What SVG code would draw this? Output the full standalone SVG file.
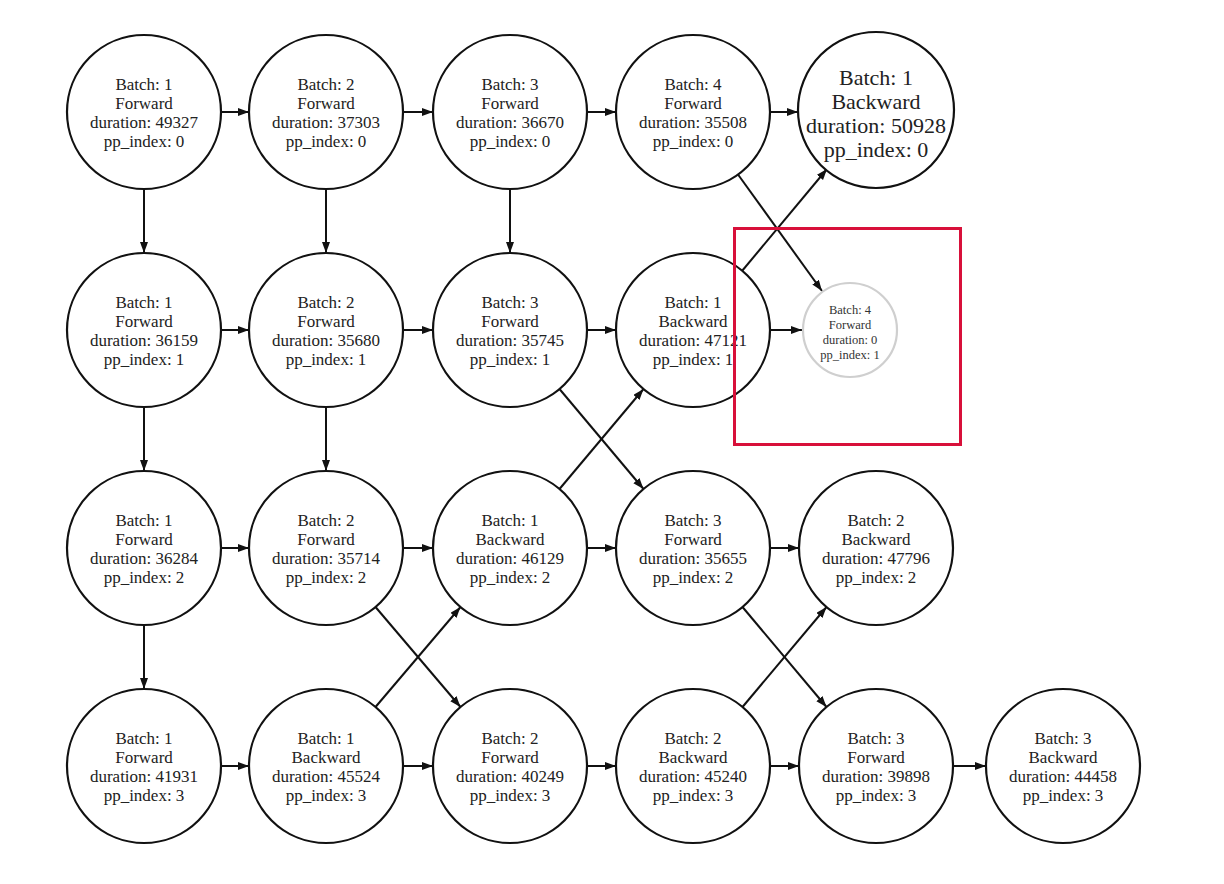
<svg xmlns="http://www.w3.org/2000/svg" width="1224" height="884" viewBox="0 0 1224 884">
  <defs>
    <marker id="arrow" markerUnits="userSpaceOnUse" markerWidth="12" markerHeight="10" refX="11" refY="4" orient="auto">
      <path d="M0,0 L11,4 L0,8 Z" fill="#111"/>
    </marker>
    <style>
      .node circle { fill: #fff; stroke: #111; stroke-width: 2.2; }
      .node text { font-family: "Liberation Serif", "Times New Roman", serif; font-size: 17px; fill: #222; text-anchor: middle; dominant-baseline: central; }
      .big text { font-size: 22px; }
      .ghost circle { stroke: #cfcfcf; stroke-width: 2.2; }
      .ghost text { font-size: 12.5px; fill: #333; }
      .edges line { stroke: #111; stroke-width: 2; marker-end: url(#arrow); }
      .highlight { fill: none; stroke: #d8103a; stroke-width: 3; }
    </style>
  </defs>
  <rect width="1224" height="884" fill="#fff"/>

  <!-- connectors -->
  <g id="edges" class="edges">
    <!-- pp_index 0 -->
    <line x1="221" y1="112" x2="249" y2="112"/>
    <line x1="403" y1="112" x2="433" y2="112"/>
    <line x1="587" y1="112" x2="616" y2="112"/>
    <line x1="770" y1="112" x2="798" y2="112"/>
    <!-- pp_index 1 -->
    <line x1="221" y1="330" x2="249" y2="330"/>
    <line x1="403" y1="330" x2="433" y2="330"/>
    <line x1="587" y1="330" x2="616" y2="330"/>
    <line x1="770" y1="330" x2="802" y2="330"/>
    <!-- pp_index 2 -->
    <line x1="221" y1="548" x2="249" y2="548"/>
    <line x1="403" y1="548" x2="433" y2="548"/>
    <line x1="587" y1="548" x2="616" y2="548"/>
    <line x1="770" y1="548" x2="799" y2="548"/>
    <!-- pp_index 3 -->
    <line x1="221" y1="766" x2="249" y2="766"/>
    <line x1="403" y1="766" x2="433" y2="766"/>
    <line x1="587" y1="766" x2="616" y2="766"/>
    <line x1="770" y1="766" x2="799" y2="766"/>
    <line x1="953" y1="766" x2="986" y2="766"/>
    <!-- vertical stage hand-offs -->
    <line x1="144" y1="189" x2="144" y2="253"/>
    <line x1="144" y1="407" x2="144" y2="471"/>
    <line x1="144" y1="625" x2="144" y2="689"/>
    <line x1="326" y1="189" x2="326" y2="253"/>
    <line x1="326" y1="407" x2="326" y2="471"/>
    <line x1="510" y1="189" x2="510" y2="253"/>
    <!-- diagonal hand-offs -->
    <line x1="738" y1="174.5" x2="822" y2="291"/>
    <line x1="742" y1="271" x2="827" y2="169"/>
    <line x1="559.5" y1="389" x2="643.5" y2="489"/>
    <line x1="559.5" y1="489" x2="643.5" y2="389"/>
    <line x1="375.5" y1="607" x2="460.5" y2="707"/>
    <line x1="375.5" y1="707" x2="460.5" y2="607"/>
    <line x1="742.5" y1="607" x2="826.5" y2="707"/>
    <line x1="742.5" y1="707" x2="826.5" y2="607"/>
  </g>

  <!-- pp_index 0 -->
  <g id="n_b1_f_p0" class="node"><circle cx="144" cy="112" r="77"/>
    <text x="144" y="84.5">Batch: 1</text><text x="144" y="103.5">Forward</text><text x="144" y="122.5">duration: 49327</text><text x="144" y="141.5">pp_index: 0</text></g>
  <g id="n_b2_f_p0" class="node"><circle cx="326" cy="112" r="77"/>
    <text x="326" y="84.5">Batch: 2</text><text x="326" y="103.5">Forward</text><text x="326" y="122.5">duration: 37303</text><text x="326" y="141.5">pp_index: 0</text></g>
  <g id="n_b3_f_p0" class="node"><circle cx="510" cy="112" r="77"/>
    <text x="510" y="84.5">Batch: 3</text><text x="510" y="103.5">Forward</text><text x="510" y="122.5">duration: 36670</text><text x="510" y="141.5">pp_index: 0</text></g>
  <g id="n_b4_f_p0" class="node"><circle cx="693" cy="112" r="77"/>
    <text x="693" y="84.5">Batch: 4</text><text x="693" y="103.5">Forward</text><text x="693" y="122.5">duration: 35508</text><text x="693" y="141.5">pp_index: 0</text></g>
  <g id="n_b1_b_p0" class="node big"><circle cx="876" cy="110" r="78"/>
    <text x="876" y="77.5">Batch: 1</text><text x="876" y="101.5">Backward</text><text x="876" y="125.5">duration: 50928</text><text x="876" y="149.5">pp_index: 0</text></g>

  <!-- pp_index 1 -->
  <g id="n_b1_f_p1" class="node"><circle cx="144" cy="330" r="77"/>
    <text x="144" y="302.5">Batch: 1</text><text x="144" y="321.5">Forward</text><text x="144" y="340.5">duration: 36159</text><text x="144" y="359.5">pp_index: 1</text></g>
  <g id="n_b2_f_p1" class="node"><circle cx="326" cy="330" r="77"/>
    <text x="326" y="302.5">Batch: 2</text><text x="326" y="321.5">Forward</text><text x="326" y="340.5">duration: 35680</text><text x="326" y="359.5">pp_index: 1</text></g>
  <g id="n_b3_f_p1" class="node"><circle cx="510" cy="330" r="77"/>
    <text x="510" y="302.5">Batch: 3</text><text x="510" y="321.5">Forward</text><text x="510" y="340.5">duration: 35745</text><text x="510" y="359.5">pp_index: 1</text></g>
  <g id="n_b1_b_p1" class="node"><circle cx="693" cy="330" r="77"/>
    <text x="693" y="302.5">Batch: 1</text><text x="693" y="321.5">Backward</text><text x="693" y="340.5">duration: 47121</text><text x="693" y="359.5">pp_index: 1</text></g>
  <g id="n_b4_f_p1" class="node ghost"><circle cx="850" cy="330" r="47"/>
    <text x="850" y="309.5">Batch: 4</text><text x="850" y="324.5">Forward</text><text x="850" y="339.5">duration: 0</text><text x="850" y="354.5">pp_index: 1</text></g>

  <!-- pp_index 2 -->
  <g id="n_b1_f_p2" class="node"><circle cx="144" cy="548" r="77"/>
    <text x="144" y="520.5">Batch: 1</text><text x="144" y="539.5">Forward</text><text x="144" y="558.5">duration: 36284</text><text x="144" y="577.5">pp_index: 2</text></g>
  <g id="n_b2_f_p2" class="node"><circle cx="326" cy="548" r="77"/>
    <text x="326" y="520.5">Batch: 2</text><text x="326" y="539.5">Forward</text><text x="326" y="558.5">duration: 35714</text><text x="326" y="577.5">pp_index: 2</text></g>
  <g id="n_b1_b_p2" class="node"><circle cx="510" cy="548" r="77"/>
    <text x="510" y="520.5">Batch: 1</text><text x="510" y="539.5">Backward</text><text x="510" y="558.5">duration: 46129</text><text x="510" y="577.5">pp_index: 2</text></g>
  <g id="n_b3_f_p2" class="node"><circle cx="693" cy="548" r="77"/>
    <text x="693" y="520.5">Batch: 3</text><text x="693" y="539.5">Forward</text><text x="693" y="558.5">duration: 35655</text><text x="693" y="577.5">pp_index: 2</text></g>
  <g id="n_b2_b_p2" class="node"><circle cx="876" cy="548" r="77"/>
    <text x="876" y="520.5">Batch: 2</text><text x="876" y="539.5">Backward</text><text x="876" y="558.5">duration: 47796</text><text x="876" y="577.5">pp_index: 2</text></g>

  <!-- pp_index 3 -->
  <g id="n_b1_f_p3" class="node"><circle cx="144" cy="766" r="77"/>
    <text x="144" y="738.5">Batch: 1</text><text x="144" y="757.5">Forward</text><text x="144" y="776.5">duration: 41931</text><text x="144" y="795.5">pp_index: 3</text></g>
  <g id="n_b1_b_p3" class="node"><circle cx="326" cy="766" r="77"/>
    <text x="326" y="738.5">Batch: 1</text><text x="326" y="757.5">Backward</text><text x="326" y="776.5">duration: 45524</text><text x="326" y="795.5">pp_index: 3</text></g>
  <g id="n_b2_f_p3" class="node"><circle cx="510" cy="766" r="77"/>
    <text x="510" y="738.5">Batch: 2</text><text x="510" y="757.5">Forward</text><text x="510" y="776.5">duration: 40249</text><text x="510" y="795.5">pp_index: 3</text></g>
  <g id="n_b2_b_p3" class="node"><circle cx="693" cy="766" r="77"/>
    <text x="693" y="738.5">Batch: 2</text><text x="693" y="757.5">Backward</text><text x="693" y="776.5">duration: 45240</text><text x="693" y="795.5">pp_index: 3</text></g>
  <g id="n_b3_f_p3" class="node"><circle cx="876" cy="766" r="77"/>
    <text x="876" y="738.5">Batch: 3</text><text x="876" y="757.5">Forward</text><text x="876" y="776.5">duration: 39898</text><text x="876" y="795.5">pp_index: 3</text></g>
  <g id="n_b3_b_p3" class="node"><circle cx="1063" cy="766" r="77"/>
    <text x="1063" y="738.5">Batch: 3</text><text x="1063" y="757.5">Backward</text><text x="1063" y="776.5">duration: 44458</text><text x="1063" y="795.5">pp_index: 3</text></g>

  <!-- highlight frame -->
  <rect class="highlight" x="734.5" y="228.5" width="226" height="216"/>
</svg>
